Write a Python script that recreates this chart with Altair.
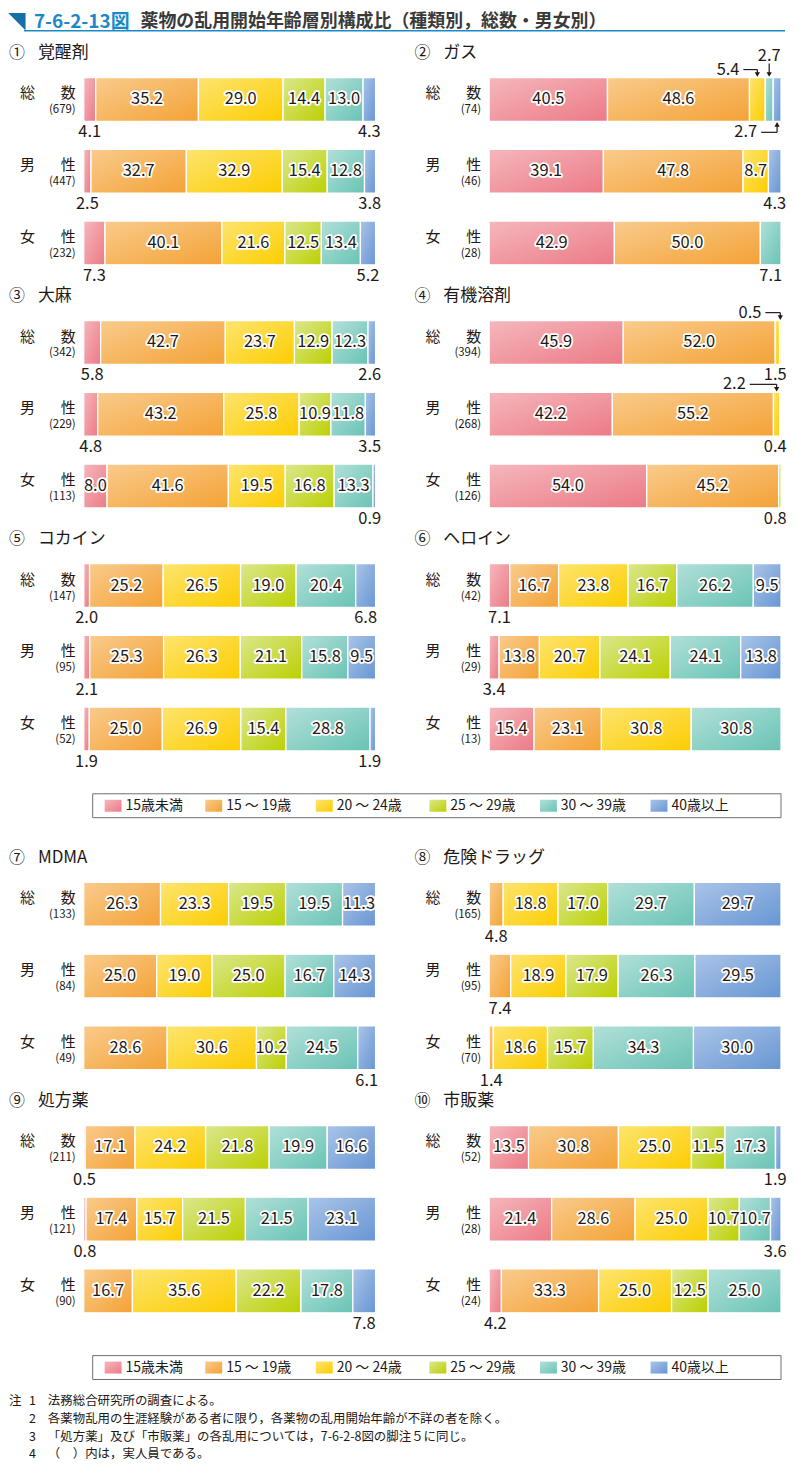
import altair as alt
import pandas as pd

FONT = "Noto Sans CJK JP"
TEXT_COLOR = "#231815"
BLUE = "#1b89c8"
DARK_BLUE = "#1670a8"

# ---------------- data ----------------
AGE_GROUPS = ["15歳未満", "15 ～ 19歳", "20 ～ 24歳", "25 ～ 29歳", "30 ～ 39歳", "40歳以上"]
DRUG_NUMBERS = ["①", "②", "③", "④", "⑤", "⑥", "⑦", "⑧", "⑨", "⑩"]
DRUG_NAMES = ["覚醒剤", "ガス", "大麻", "有機溶剤", "コカイン", "ヘロイン", "MDMA", "危険ドラッグ", "処方薬", "市販薬"]
ROW_FIRST = ["総", "男", "女"]
ROW_SECOND = ["数", "性", "性"]

N_TOTAL = [679, 74, 342, 394, 147, 42, 133, 165, 211, 52]
N_MALE = [447, 46, 229, 268, 95, 29, 84, 95, 121, 28]
N_FEMALE = [232, 28, 113, 126, 52, 13, 49, 70, 90, 24]

SHARE_TOTAL = [
    [4.1, 35.2, 29.0, 14.4, 13.0, 4.3],
    [40.5, 48.6, 5.4, 0, 2.7, 2.7],
    [5.8, 42.7, 23.7, 12.9, 12.3, 2.6],
    [45.9, 52.0, 1.5, 0.5, 0, 0],
    [2.0, 25.2, 26.5, 19.0, 20.4, 6.8],
    [7.1, 16.7, 23.8, 16.7, 26.2, 9.5],
    [0, 26.3, 23.3, 19.5, 19.5, 11.3],
    [0, 4.8, 18.8, 17.0, 29.7, 29.7],
    [0.5, 17.1, 24.2, 21.8, 19.9, 16.6],
    [13.5, 30.8, 25.0, 11.5, 17.3, 1.9],
]
SHARE_MALE = [
    [2.5, 32.7, 32.9, 15.4, 12.8, 3.8],
    [39.1, 47.8, 8.7, 0, 0, 4.3],
    [4.8, 43.2, 25.8, 10.9, 11.8, 3.5],
    [42.2, 55.2, 2.2, 0.4, 0, 0],
    [2.1, 25.3, 26.3, 21.1, 15.8, 9.5],
    [3.4, 13.8, 20.7, 24.1, 24.1, 13.8],
    [0, 25.0, 19.0, 25.0, 16.7, 14.3],
    [0, 7.4, 18.9, 17.9, 26.3, 29.5],
    [0.8, 17.4, 15.7, 21.5, 21.5, 23.1],
    [21.4, 28.6, 25.0, 10.7, 10.7, 3.6],
]
SHARE_FEMALE = [
    [7.3, 40.1, 21.6, 12.5, 13.4, 5.2],
    [42.9, 50.0, 0, 0, 7.1, 0],
    [8.0, 41.6, 19.5, 16.8, 13.3, 0.9],
    [54.0, 45.2, 0, 0.8, 0, 0],
    [1.9, 25.0, 26.9, 15.4, 28.8, 1.9],
    [15.4, 23.1, 30.8, 0, 30.8, 0],
    [0, 28.6, 30.6, 10.2, 24.5, 6.1],
    [0, 1.4, 18.6, 15.7, 34.3, 30.0],
    [0, 16.7, 35.6, 22.2, 17.8, 7.8],
    [4.2, 33.3, 25.0, 12.5, 25.0, 0],
]

NOTE_NUMS = ["1", "2", "3", "4"]
NOTE_TEXTS = [
    "法務総合研究所の調査による。",
    "各薬物乱用の生涯経験がある者に限り，各薬物の乱用開始年齢が不詳の者を除く。",
    "「処方薬」及び「市販薬」の各乱用については，7-6-2-8図の脚注５に同じ。",
    "（　）内は，実人員である。",
]

# ---------------- styles ----------------
GRAD_LIGHT = ["#f5b7bc", "#f9cb8c", "#fde46f", "#dbe78e", "#b2e0d8", "#aac4e8"]
GRAD_DARK = ["#ec7a86", "#f4a236", "#fccd00", "#bbd000", "#69c3b5", "#6796d3"]

# labels of small segments that are placed with leader arrows: key -> leader length (px)
LEADER_ABOVE_LEFT = {(1, 0, 2): 14, (3, 0, 3): 15, (3, 1, 2): 27}
LEADER_ABOVE = {(1, 0, 4): 14}
LEADER_BELOW_LEFT = {(1, 0, 5): 16}

W = 293
ROW_PX = 72
PANEL_H = 244
BAR_PX = 44
LEG_X = [21, 122, 233, 347, 458, 569]


def grad(i):
    return alt.LinearGradient(
        gradient="linear",
        stops=[alt.GradientStop(color=GRAD_LIGHT[i], offset=0),
               alt.GradientStop(color=GRAD_DARK[i], offset=1)],
        x1=0, y1=0, x2=1, y2=1,
    )


records = []
rows = []
for d in range(10):
    ns = [N_TOTAL[d], N_MALE[d], N_FEMALE[d]]
    for r, shares in enumerate([SHARE_TOTAL[d], SHARE_MALE[d], SHARE_FEMALE[d]]):
        rows.append(dict(drug=d, row=r, first=ROW_FIRST[r], second=ROW_SECOND[r], n=f"({ns[r]})"))
        for g, v in enumerate(shares):
            if v <= 0:
                continue
            key = (d, r, g)
            if key in LEADER_ABOVE_LEFT:
                mode, lead = "above_left", LEADER_ABOVE_LEFT[key]
            elif key in LEADER_ABOVE:
                mode, lead = "above", LEADER_ABOVE[key]
            elif key in LEADER_BELOW_LEFT:
                mode, lead = "below_left", LEADER_BELOW_LEFT[key]
            elif v >= 8:
                mode, lead = "in", 0
            else:
                mode, lead = "below", 0
            records.append(dict(drug=d, row=r, group=g, value=v, mode=mode, lead=lead))

df = pd.DataFrame(records)
rows_df = pd.DataFrame(rows)

XS = alt.Scale(domain=[0, 1], nice=False, zero=False)
YS = alt.Scale(domain=[0, PANEL_H / ROW_PX], reverse=True, nice=False, zero=False)


def X(f):
    return alt.X(f"{f}:Q", scale=XS, axis=None)


def Y(f):
    return alt.Y(f"{f}:Q", scale=YS, axis=None)


def panel(d):
    base = (
        alt.Chart(df)
        .transform_filter(alt.datum.drug == d)
        .transform_stack(stack="value", groupby=["row"], as_=["x0", "x1"], offset="normalize",
                         sort=[alt.SortField("group", order="ascending")])
        .transform_calculate(
            mid="(datum.x0 + datum.x1) / 2",
            yc="datum.row + 0.5",
        )
        .transform_calculate(
            ytop=f"datum.yc - {BAR_PX / 2} / {ROW_PX}",
            ybot=f"datum.yc + {BAR_PX / 2} / {ROW_PX}",
            lx_below="min(datum.mid, 0.98)",
            hx=f"datum.mid - datum.lead / {W}",
            lx_left=f"datum.mid - (datum.lead + 4) / {W}",
            y_below=f"datum.yc + 33 / {ROW_PX}",
            y_above=f"datum.yc - 30 / {ROW_PX}",
            y_top_label=f"datum.yc - 44 / {ROW_PX}",
            y_top_lead=f"datum.yc - 36 / {ROW_PX}",
            head_top=f"datum.yc - {BAR_PX / 2 + 3} / {ROW_PX}",
            head_bot=f"datum.yc + {BAR_PX / 2 + 3} / {ROW_PX}",
        )
    )
    layers = []
    for g in range(6):
        layers.append(
            base.transform_filter(alt.datum.group == g)
            .mark_rect(fill=grad(g), stroke="white", strokeWidth=1.3)
            .encode(x=X("x0"), x2="x1:Q", y=Y("ytop"), y2="ybot:Q")
        )
    txt = alt.Text("value:Q", format=".1f")
    inside = base.transform_filter(alt.datum.mode == "in")
    layers.append(inside.mark_text(font=FONT, fontSize=16.5, color="white", stroke="white",
                                   strokeWidth=3.5, strokeJoin="round")
                  .encode(x=X("mid"), y=Y("yc"), text=txt))
    layers.append(inside.mark_text(font=FONT, fontSize=16.5, color=TEXT_COLOR)
                  .encode(x=X("mid"), y=Y("yc"), text=txt))
    layers.append(base.transform_filter(alt.datum.mode == "below")
                  .mark_text(font=FONT, fontSize=16.5, color=TEXT_COLOR)
                  .encode(x=X("lx_below"), y=Y("y_below"), text=txt))
    # leader labels
    al = base.transform_filter(alt.datum.mode == "above_left")
    layers.append(al.mark_text(font=FONT, fontSize=16.5, color=TEXT_COLOR, align="right")
                  .encode(x=X("lx_left"), y=Y("y_above"), text=txt))
    layers.append(al.mark_rule(color=TEXT_COLOR, strokeWidth=1.2)
                  .encode(x=X("hx"), x2="mid:Q", y=Y("y_above")))
    layers.append(al.mark_rule(color=TEXT_COLOR, strokeWidth=1.2)
                  .encode(x=X("mid"), y=Y("y_above"), y2="head_top:Q"))
    ab = base.transform_filter(alt.datum.mode == "above")
    layers.append(ab.mark_text(font=FONT, fontSize=16.5, color=TEXT_COLOR)
                  .encode(x=X("mid"), y=Y("y_top_label"), text=txt))
    layers.append(ab.mark_rule(color=TEXT_COLOR, strokeWidth=1.2)
                  .encode(x=X("mid"), y=Y("y_top_lead"), y2="head_top:Q"))
    heads_down = base.transform_filter(
        alt.FieldOneOfPredicate(field="mode", oneOf=["above_left", "above"]))
    layers.append(heads_down.mark_point(shape="triangle-down", filled=True, size=28,
                                        color=TEXT_COLOR, opacity=1)
                  .encode(x=X("mid"), y=Y("head_top")))
    bl = base.transform_filter(alt.datum.mode == "below_left")
    layers.append(bl.mark_text(font=FONT, fontSize=16.5, color=TEXT_COLOR, align="right")
                  .encode(x=X("lx_left"), y=Y("y_below"), text=txt))
    layers.append(bl.mark_rule(color=TEXT_COLOR, strokeWidth=1.2)
                  .encode(x=X("hx"), x2="mid:Q", y=Y("y_below")))
    layers.append(bl.mark_rule(color=TEXT_COLOR, strokeWidth=1.2)
                  .encode(x=X("mid"), y=Y("head_bot"), y2="y_below:Q"))
    layers.append(bl.mark_point(shape="triangle-up", filled=True, size=28,
                                color=TEXT_COLOR, opacity=1)
                  .encode(x=X("mid"), y=Y("head_bot")))
    # row labels
    rb = (alt.Chart(rows_df).transform_filter(alt.datum.drug == d)
          .transform_calculate(yc="datum.row + 0.5"))
    layers.append(rb.mark_text(font=FONT, fontSize=15, color=TEXT_COLOR, align="left", dy=-6)
                  .encode(x=alt.value(-64), y=Y("yc"), text="first:N"))
    layers.append(rb.mark_text(font=FONT, fontSize=15, color=TEXT_COLOR, align="right", dy=-6)
                  .encode(x=alt.value(-8), y=Y("yc"), text="second:N"))
    layers.append(rb.mark_text(font=FONT, fontSize=11.5, color=TEXT_COLOR, align="right", dy=11)
                  .encode(x=alt.value(-8), y=Y("yc"), text="n:N"))
    # panel title
    tdf = pd.DataFrame({"num": [DRUG_NUMBERS[d]], "name": [DRUG_NAMES[d]]})
    layers.append(alt.Chart(tdf).mark_text(font=FONT, fontSize=16, color=TEXT_COLOR, align="left")
                  .encode(x=alt.value(-75), y=alt.value(-11), text="num:N"))
    layers.append(alt.Chart(tdf).mark_text(font=FONT, fontSize=17, color=TEXT_COLOR, align="left")
                  .encode(x=alt.value(-46), y=alt.value(-11), text="name:N"))
    return alt.layer(*layers).properties(width=W, height=PANEL_H)


def blank(h):
    one = pd.DataFrame({"k": [0]})
    return alt.Chart(one).mark_rect(opacity=0).encode(
        x=alt.value(10), x2=alt.value(20), y=alt.value(10), y2=alt.value(20)).properties(
        width=W, height=h)


def legend(h):
    leg = pd.DataFrame({"group": list(range(6)), "name": AGE_GROUPS})
    one = pd.DataFrame({"k": [0]})
    layers = [alt.Chart(one).mark_rect(fill="white", stroke="#6f6f6f", strokeWidth=1)
              .encode(x=alt.value(9), x2=alt.value(700), y=alt.value(1), y2=alt.value(25))]
    for i in range(6):
        sub = alt.Chart(leg).transform_filter(alt.datum.group == i)
        layers.append(sub.mark_rect(fill=grad(i))
                      .encode(x=alt.value(LEG_X[i]), x2=alt.value(LEG_X[i] + 17),
                              y=alt.value(7), y2=alt.value(19)))
        layers.append(sub.mark_text(font=FONT, fontSize=14, color=TEXT_COLOR, align="left")
                      .encode(x=alt.value(LEG_X[i] + 21), y=alt.value(13), text="name:N"))
    return alt.layer(*layers).properties(width=W, height=h)


def header():
    one = pd.DataFrame({"fig": ["7-6-2-13図"],
                        "title": ["薬物の乱用開始年齢層別構成比（種類別，総数・男女別）"]})
    base = alt.Chart(one)
    tri = base.mark_point(shape="M -1 -1 L 1 -1 L 1 1 Z", filled=True, size=300,
                          color=DARK_BLUE, opacity=1).encode(x=alt.value(-67), y=alt.value(11))
    line = base.mark_rule(color=BLUE, strokeWidth=1.5).encode(
        x=alt.value(-60), x2=alt.value(704), y=alt.value(20))
    fig = base.mark_text(font=FONT, fontSize=19, fontWeight="bold", color=BLUE, align="left").encode(
        x=alt.value(-50), y=alt.value(11.5), text="fig:N")
    title = base.mark_text(font=FONT, fontSize=18, fontWeight="bold", color="#3a3a3a", align="left").encode(
        x=alt.value(57), y=alt.value(11.5), text="title:N")
    return alt.layer(tri, line, fig, title).properties(width=W, height=53)


def notes():
    ndf = pd.DataFrame({"i": list(range(4)), "num": NOTE_NUMS, "text": NOTE_TEXTS})
    ys = alt.Scale(domain=[0, 66 / 17.7], reverse=True, nice=False, zero=False)
    base = alt.Chart(ndf).transform_calculate(yc="datum.i + 0.5")
    y = alt.Y("yc:Q", scale=ys, axis=None)
    lab = base.transform_filter(alt.datum.i == 0).mark_text(
        font=FONT, fontSize=12.5, color=TEXT_COLOR, align="left").encode(
        x=alt.value(-75), y=y, text=alt.value("注"))
    num = base.mark_text(font=FONT, fontSize=12.5, color=TEXT_COLOR, align="left").encode(
        x=alt.value(-55), y=y, text="num:N")
    txt = base.mark_text(font=FONT, fontSize=12.5, color=TEXT_COLOR, align="left").encode(
        x=alt.value(-36), y=y, text="text:N")
    return alt.layer(lab, num, txt).properties(width=W, height=66)


cells = [
    header(), blank(53),
    panel(0), panel(1),
    panel(2), panel(3),
    panel(4), panel(5),
    legend(76), blank(76),
    panel(6), panel(7),
    panel(8), panel(9),
    legend(38), blank(38),
    notes(), blank(66),
]

chart = alt.concat(
    *cells, columns=2, spacing={"row": 0, "column": 114}, bounds="flush",
).properties(padding=0).configure_view(strokeWidth=0)

chart.save("out.html", embed_options={"renderer": "svg", "actions": False})
